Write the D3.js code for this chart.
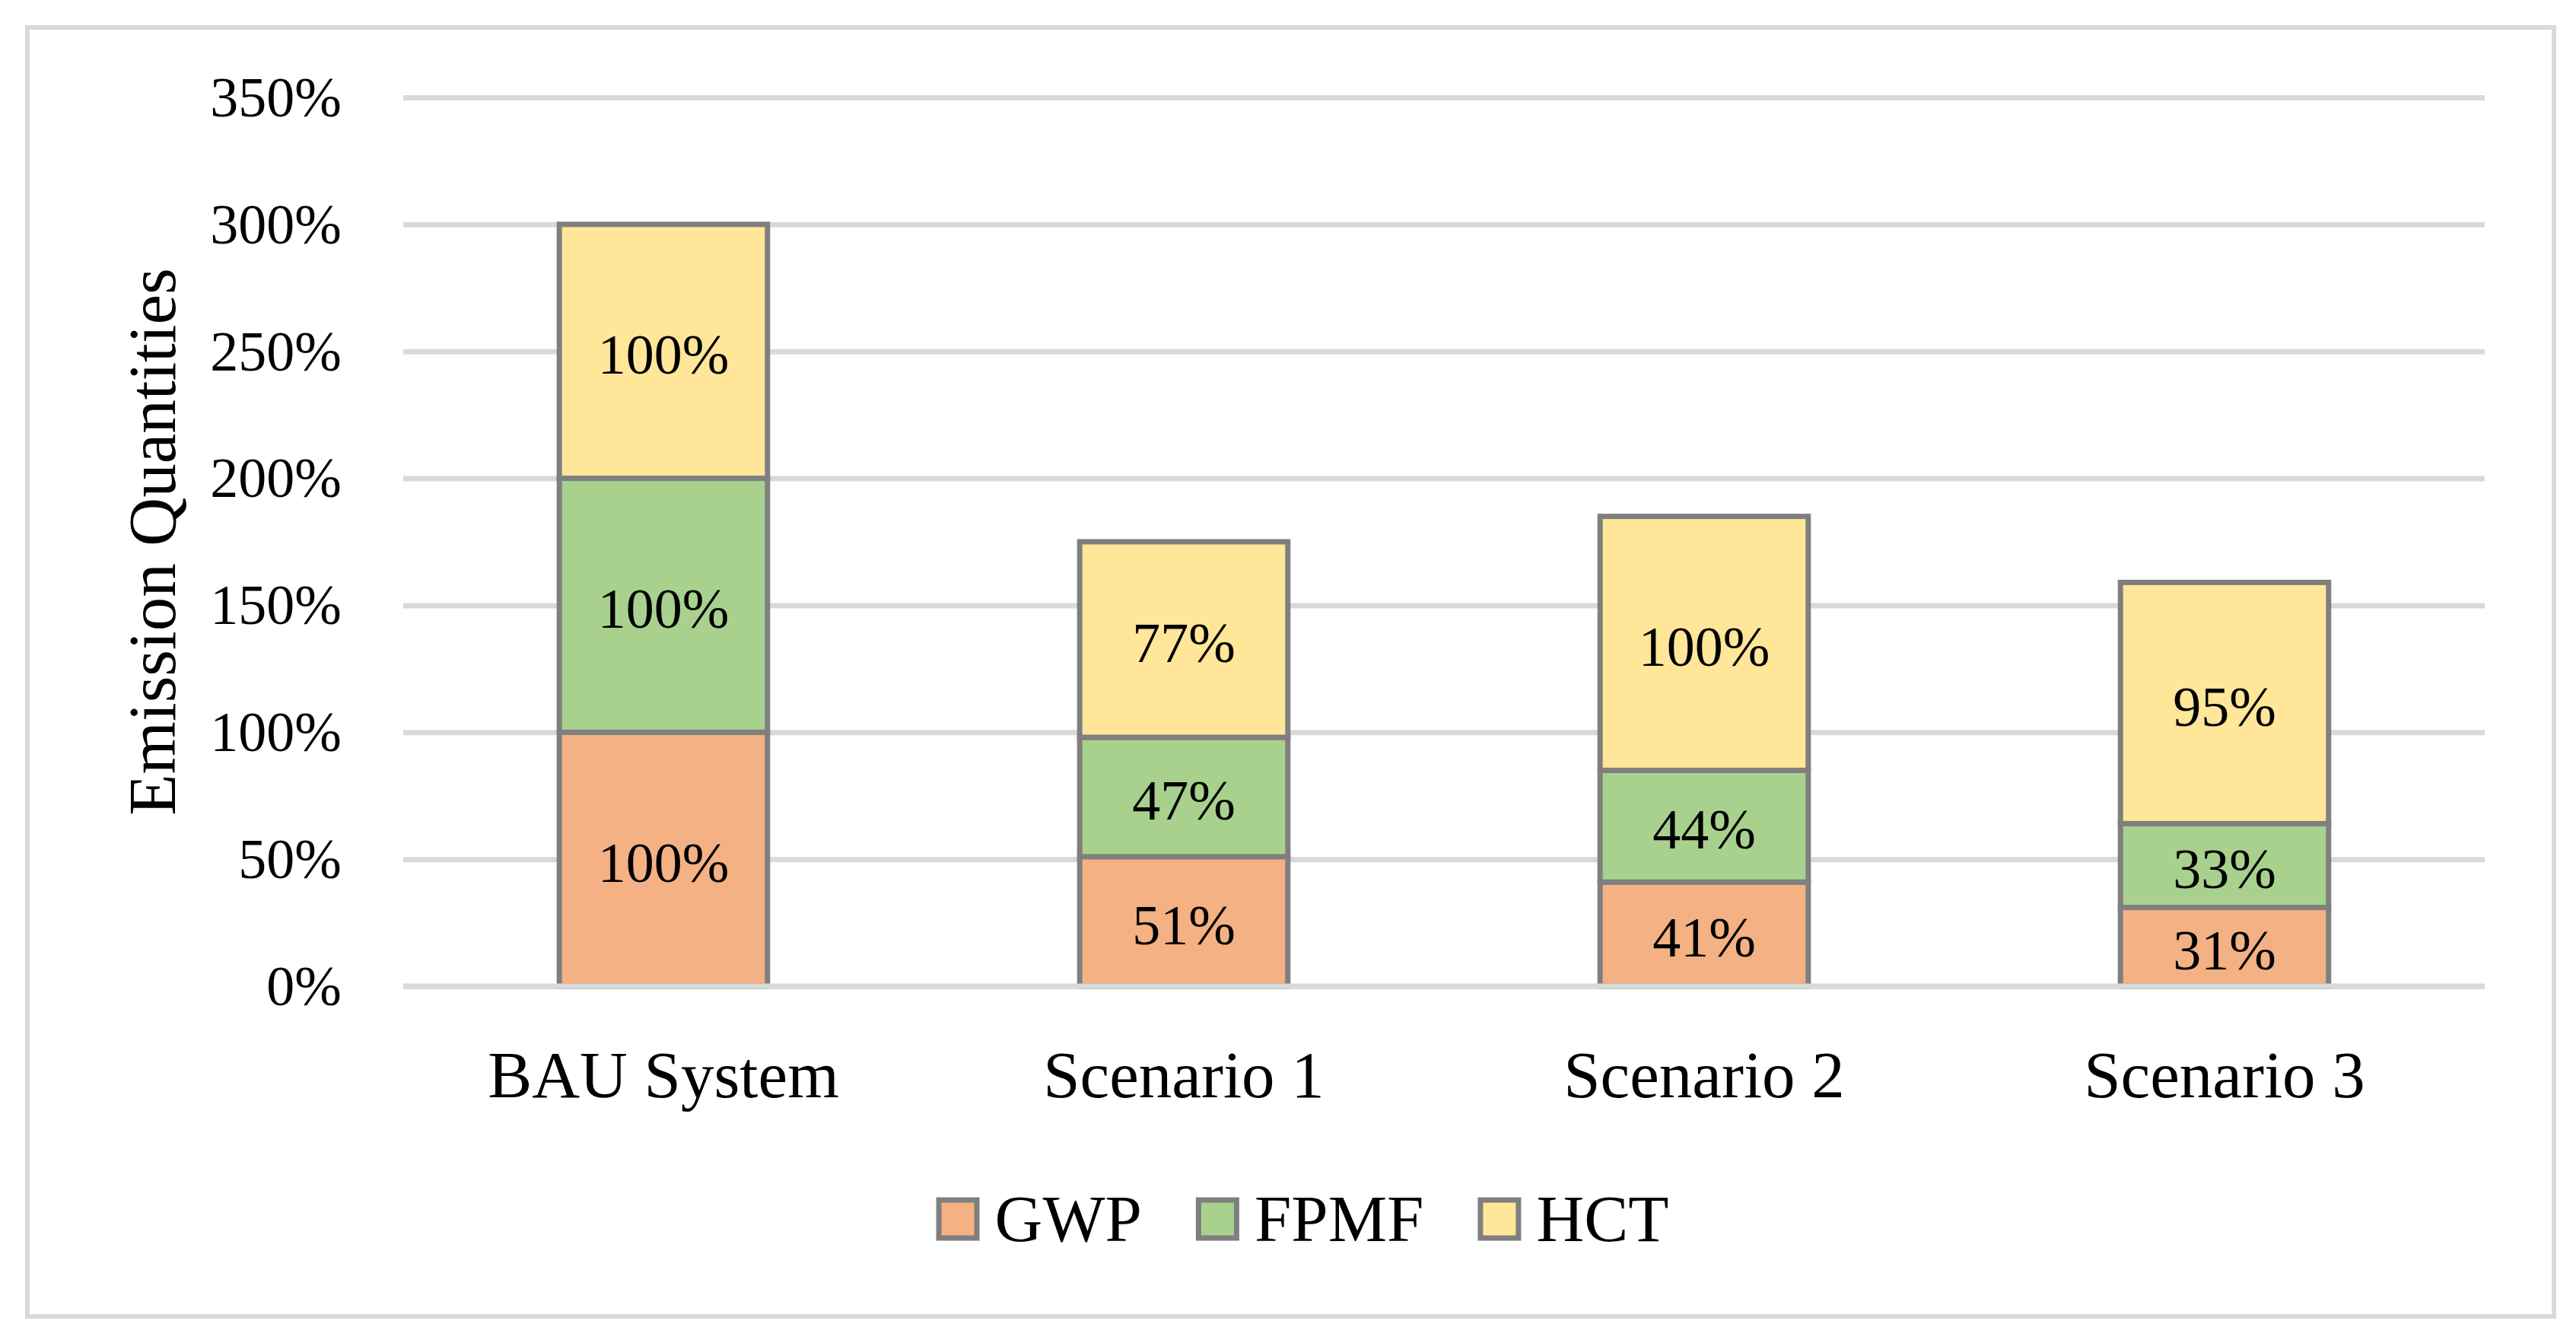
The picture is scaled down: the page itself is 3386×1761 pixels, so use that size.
<!DOCTYPE html>
<html>
<head>
<meta charset="utf-8">
<script src="https://cdn.jsdelivr.net/npm/d3@7"></script>
<style>
  body { margin: 0; background: #fff; }
  svg { display: block; }
  text { font-family: "Liberation Serif", "Times New Roman", serif; fill: #000; }
</style>
</head>
<body>
<svg id="chart"></svg>
<script>
// chart data
const categories = ["BAU System", "Scenario 1", "Scenario 2", "Scenario 3"];
const seriesNames = ["GWP", "FPMF", "HCT"];
const gwp  = [1.00, 0.51, 0.41, 0.31];
const fpmf = [1.00, 0.47, 0.44, 0.33];
const hct  = [1.00, 0.77, 1.00, 0.95];
const yTicks = [0, 0.5, 1, 1.5, 2, 2.5, 3, 3.5];
const colors = ["#F4B183", "#A9D18E", "#FFE699"];

const width = 3386, height = 1761;
const margin = { top: 128, right: 120, bottom: 465, left: 530 };

const svg = d3.select("#chart")
    .attr("width", width)
    .attr("height", height);

// outer chart border
svg.append("rect")
    .attr("x", 36).attr("y", 36)
    .attr("width", 3321).attr("height", 1694)
    .attr("fill", "#fff")
    .attr("stroke", "#D9D9D9")
    .attr("stroke-width", 6);

const x = d3.scaleBand()
    .domain(categories)
    .range([margin.left, width - margin.right])
    .padding(0);

const y = d3.scaleLinear()
    .domain([0, 3.5])
    .range([height - margin.bottom, margin.top]);

const barW = x.bandwidth() * 0.4;
const fmt = d3.format(".0%");

// build table for stacking
const table = categories.map((c, i) => ({ cat: c, GWP: gwp[i], FPMF: fpmf[i], HCT: hct[i] }));
const stacked = d3.stack().keys(seriesNames)(table);

// gridlines (drawn with an axis, no domain)
const grid = svg.append("g")
    .attr("transform", `translate(${margin.left},0)`)
    .call(d3.axisLeft(y).tickValues(yTicks).tickSize(-(width - margin.right - margin.left)).tickFormat(""));
grid.select(".domain").remove();
grid.selectAll(".tick line").attr("stroke", "#D9D9D9").attr("stroke-width", 7);

// y tick labels
const yAxis = svg.append("g")
    .attr("transform", `translate(449,0)`)
    .call(d3.axisLeft(y).tickValues(yTicks).tickSize(0).tickPadding(0).tickFormat(fmt));
yAxis.select(".domain").remove();
yAxis.selectAll("text")
    .attr("font-size", 74)
    .attr("font-family", "Liberation Serif")
    .attr("dy", "0.33em");

// bars
const layer = svg.append("g").selectAll("g")
    .data(stacked)
    .join("g")
    .attr("fill", (d, i) => colors[i]);

layer.selectAll("rect")
    .data(d => d)
    .join("rect")
    .attr("x", d => x(d.data.cat) + (x.bandwidth() - barW) / 2)
    .attr("y", d => y(d[1]))
    .attr("width", barW)
    .attr("height", d => y(d[0]) - y(d[1]))
    .attr("stroke", "#7F7F7F")
    .attr("stroke-width", 7);

// baseline over the bar bottoms
svg.append("line")
    .attr("x1", margin.left).attr("x2", width - margin.right)
    .attr("y1", y(0)).attr("y2", y(0))
    .attr("stroke", "#D9D9D9")
    .attr("stroke-width", 7);

// data labels
layer.selectAll("text")
    .data(d => d)
    .join("text")
    .attr("x", d => x(d.data.cat) + x.bandwidth() / 2)
    .attr("y", d => (y(d[0]) + y(d[1])) / 2)
    .attr("dy", "0.4em")
    .attr("text-anchor", "middle")
    .attr("font-size", 74)
    .attr("fill", "#000")
    .text(d => fmt(d[1] - d[0]));

// category labels
svg.append("g").selectAll("text")
    .data(categories)
    .join("text")
    .attr("x", d => x(d) + x.bandwidth() / 2)
    .attr("y", 1442)
    .attr("text-anchor", "middle")
    .attr("font-size", 87)
    .text(d => d);

// y axis title
svg.append("text")
    .attr("transform", `translate(230,${(y(0) + y(3.5)) / 2}) rotate(-90)`)
    .attr("text-anchor", "middle")
    .attr("font-size", 89)
    .text("Emission Quantities");

// legend
const legend = svg.append("g");
let lx = 0;
seriesNames.forEach((name, i) => {
    const item = legend.append("g").attr("transform", `translate(${lx},0)`);
    item.append("rect")
        .attr("x", 3.5).attr("y", -25)
        .attr("width", 50).attr("height", 50)
        .attr("fill", colors[i])
        .attr("stroke", "#7F7F7F")
        .attr("stroke-width", 7);
    const t = item.append("text")
        .attr("x", 77)
        .attr("y", 29)
        .attr("font-size", 87)
        .text(name);
    lx += 77 + t.node().getComputedTextLength() + 71;
});
const legendW = lx - 71;
legend.attr("transform", `translate(${1712 - legendW / 2},1602)`);
</script>
</body>
</html>
